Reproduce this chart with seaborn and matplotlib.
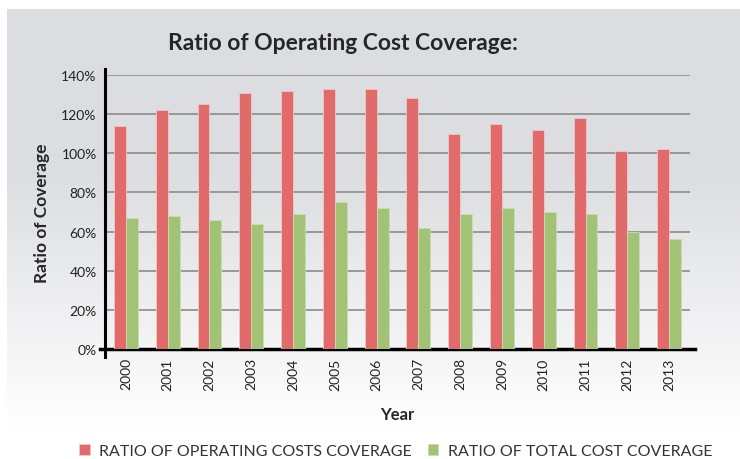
import numpy as np
import pandas as pd
import matplotlib
matplotlib.use("Agg")
import matplotlib.pyplot as plt
import seaborn as sns
from matplotlib.ticker import FuncFormatter, FixedLocator

years = ["2000", "2001", "2002", "2003", "2004", "2005", "2006",
         "2007", "2008", "2009", "2010", "2011", "2012", "2013"]
op_cov = [114, 122, 125, 131, 132, 133, 133, 128, 110, 115, 112, 118, 101, 102]
total_cov = [67, 68, 66, 64, 69, 75, 72, 62, 69, 72, 70, 69, 60, 56]
series = ["RATIO OF OPERATING COSTS COVERAGE", "RATIO OF TOTAL COST COVERAGE"]
colors = ["#e16a6a", "#a2c376"]

df = pd.DataFrame({
    "Year": years * 2,
    "Value": op_cov + total_cov,
    "Series": [series[0]] * len(years) + [series[1]] * len(years),
})

sns.set_style("white")
plt.rcParams["font.family"] = ["Lato", "DejaVu Sans"]

fig = plt.figure(figsize=(7.4, 4.6), dpi=100)

# grey gradient panel behind the chart
bg = fig.add_axes([7 / 740, 0, 733 / 740, 450 / 460], zorder=-1)
rows = np.arange(450)
top = np.array([220, 221, 224]) / 255
bot = np.array([255, 255, 255]) / 255
t = np.clip((rows - 160) / 260, 0, 1)[:, None]
grad = top * (1 - t) + bot * t
bg.imshow(grad[:, None, :], aspect="auto", extent=[0, 1, 0, 1])
bg.axis("off")

ax = fig.add_axes([105 / 740, 1 - 350 / 460, 585 / 740, 274 / 460])
ax.set_facecolor("none")
sns.barplot(data=df, x="Year", y="Value", hue="Series", palette=colors,
            saturation=1, width=0.57, ax=ax, edgecolor="#f0c8c8",
            linewidth=0.6, zorder=3)
for p in ax.patches:
    fc = p.get_facecolor()
    if fc[1] > fc[0]:
        p.set_edgecolor("#c9dcb2")

ax.set_xlim(-0.5, 13.5)
ax.set_ylim(0, 140)
ax.yaxis.set_major_locator(FixedLocator(range(0, 141, 20)))
ax.yaxis.set_major_formatter(FuncFormatter(lambda v, _: f"{int(v)}%"))
ax.grid(axis="y", color="#8c8c8c", linewidth=1.2, zorder=0)
ax.set_axisbelow(True)

for s in ["top", "right"]:
    ax.spines[s].set_visible(False)
ax.spines["left"].set_color("black")
ax.spines["left"].set_linewidth(2.2)
ax.spines["left"].set_bounds(-4, 143)
ax.spines["bottom"].set_color("black")
ax.spines["bottom"].set_linewidth(2.5)
ax.spines["bottom"].set_bounds(-0.62, 13.62)

ax.tick_params(axis="y", length=0, labelsize=10, pad=6, labelcolor="#222222")
ax.tick_params(axis="x", which="major", length=0, labelsize=10, rotation=90,
               pad=6, labelcolor="#222222")
ax.set_xticks(np.arange(0.5, 14, 1), minor=True)
ax.tick_params(axis="x", which="minor", length=5, width=1.2, color="#8c8c8c")

ax.set_xlabel("Year", fontsize=12, fontweight="bold", labelpad=12)
ax.set_ylabel("Ratio of Coverage", fontsize=12.5, fontweight="bold", labelpad=8)

fig.text(0.463, 0.905, "Ratio of Operating Cost Coverage:", fontsize=16.5,
         fontweight="bold", ha="center", va="center")

handles, labels = ax.get_legend_handles_labels()
ax.legend(handles, labels, loc="center", bbox_to_anchor=(396 / 740, 1 - 452 / 460),
          bbox_transform=fig.transFigure, ncol=2, frameon=False, fontsize=11.5,
          handlelength=0.65, handleheight=0.65, handletextpad=0.6, columnspacing=1.0,
          labelcolor="#333333")

fig.savefig("out.png", dpi=100)
